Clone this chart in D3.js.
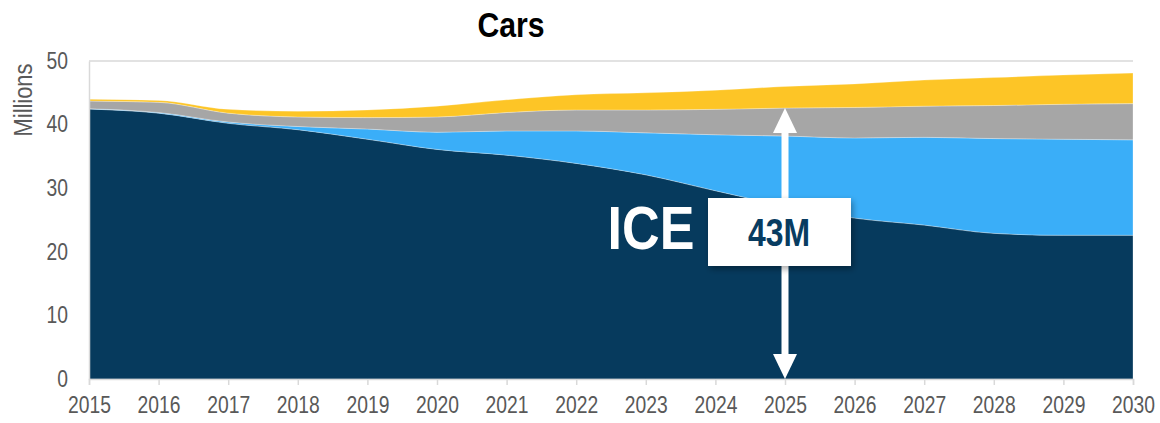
<!DOCTYPE html>
<html>
<head>
<meta charset="utf-8">
<script src="https://cdn.jsdelivr.net/npm/d3@7"></script>
<style>
  body { margin: 0; background: #fff; }
  svg text { font-family: "Liberation Sans Narrow", "Arial Narrow", "Liberation Sans", Arial, sans-serif; }
</style>
</head>
<body>
<div id="chart"></div>
<script>
// Sales of cars by powertrain, millions
var years = [2015, 2016, 2017, 2018, 2019, 2020, 2021, 2022, 2023, 2024, 2025, 2026, 2027, 2028, 2029, 2030];
var iceValues    = [42.45, 41.8, 40.2, 39.2, 37.7, 36.1, 35.2, 33.9, 32.1, 29.6, 27.2, 25.3, 24.2, 22.9, 22.6, 22.6];
var bevValues    = [0.05, 0.1, 0.2, 0.5, 1.6, 2.7, 3.8, 5.1, 6.6, 8.8, 11.0, 12.6, 13.8, 14.9, 15.1, 15.0];
var hybridValues = [1.2, 1.6, 1.4, 1.5, 1.8, 2.4, 2.9, 3.3, 3.6, 4.0, 4.4, 4.8, 4.9, 5.2, 5.5, 5.7];
var otherValues  = [0.3, 0.3, 0.6, 0.9, 1.2, 1.7, 2.0, 2.4, 2.7, 3.0, 3.4, 3.7, 4.1, 4.4, 4.6, 4.8];
var seriesKeys = ["ICE", "BEV", "Hybrid", "Other"];
var yTicks = [0, 10, 20, 30, 40, 50];
var annotationYear = 2025;
var annotationLabel = "43M";

var colors = { ICE: "#063a5d", BEV: "#3aaef8", Hybrid: "#a6a6a6", Other: "#fdc526" };

var rows = years.map(function (y, i) {
    return { year: y, ICE: iceValues[i], BEV: bevValues[i], Hybrid: hybridValues[i], Other: otherValues[i] };
});

var width = 1160, height = 423;
var margin = { top: 61, right: 27, bottom: 44, left: 89 };
var innerW = width - margin.left - margin.right;
var innerH = height - margin.top - margin.bottom;
var narrow = 0.84; // no narrow font installed, squeeze text horizontally

var svg = d3.select("#chart").append("svg")
    .attr("width", width)
    .attr("height", height);

var defs = svg.append("defs");
var shadow = defs.append("filter").attr("id", "shadow")
    .attr("x", "-20%").attr("y", "-20%").attr("width", "150%").attr("height", "160%");
shadow.append("feDropShadow")
    .attr("dx", 2).attr("dy", 3).attr("stdDeviation", 3)
    .attr("flood-color", "#000").attr("flood-opacity", 0.35);

var g = svg.append("g").attr("transform", "translate(" + margin.left + "," + margin.top + ")");

var x = d3.scaleLinear().domain([2015, 2030]).range([0, innerW]);
var y = d3.scaleLinear().domain([0, 50]).range([innerH, 0]);

// squeezed text at a point
function narrowText(parent, px, py) {
    return parent.append("text")
        .attr("transform", "translate(" + px + "," + py + ") scale(" + narrow + ",1)");
}

// Gridlines
g.append("g").selectAll("line")
    .data(yTicks.filter(function (d) { return d > 0; }))
    .enter().append("line")
    .attr("x1", 0).attr("x2", innerW)
    .attr("y1", function (d) { return y(d); })
    .attr("y2", function (d) { return y(d); })
    .attr("stroke", "#d9d9d9").attr("stroke-width", 1.5);

// Stacked areas
var stack = d3.stack().keys(seriesKeys);
var layers = stack(rows);

var area = d3.area()
    .x(function (d) { return x(d.data.year); })
    .y0(function (d) { return y(d[0]); })
    .y1(function (d) { return y(d[1]); })
    .curve(d3.curveMonotoneX);

g.selectAll(".layer")
    .data(layers)
    .enter().append("path")
    .attr("class", "layer")
    .attr("d", area)
    .attr("fill", function (d) { return colors[d.key]; })
    .attr("stroke", "rgba(255,255,255,0.35)")
    .attr("stroke-width", 0.8);

// X axis
var xAxis = g.append("g")
    .attr("transform", "translate(0," + innerH + ")")
    .call(d3.axisBottom(x).tickValues(years).tickFormat(d3.format("d")).tickSize(6).tickPadding(12));
xAxis.select(".domain").attr("stroke", "#d9d9d9").attr("stroke-width", 1.5);
xAxis.selectAll(".tick line").attr("stroke", "#d9d9d9").attr("stroke-width", 1.5);
xAxis.selectAll("text")
    .attr("fill", "#595959")
    .attr("transform", "scale(" + narrow + ",1)")
    .style("font-size", "23px");

// Y axis
var yAxis = g.append("g")
    .call(d3.axisLeft(y).tickValues(yTicks).tickSize(0).tickPadding(21));
yAxis.select(".domain").attr("stroke", "#d9d9d9").attr("stroke-width", 1.5);
yAxis.selectAll("text")
    .attr("fill", "#595959")
    .attr("x", -21 / narrow)
    .attr("transform", "scale(" + narrow + ",1)")
    .style("font-size", "23px");

// Axis title
svg.append("text")
    .attr("transform", "translate(32,100) rotate(-90) scale(" + narrow + ",1)")
    .attr("text-anchor", "middle")
    .attr("fill", "#595959")
    .style("font-size", "26px")
    .text("Millions");

// Chart title
narrowText(svg, 511, 37)
    .attr("text-anchor", "middle")
    .attr("fill", "#000")
    .style("font-size", "36px")
    .style("font-weight", "bold")
    .text("Cars");

// Annotation arrow spanning to the top of the hybrid layer
var ai = years.indexOf(annotationYear);
var ax = x(annotationYear);
var aTop = y(layers[2][ai][1]);
var aBot = y(0);
var head = 25, headW = 12;

g.append("line")
    .attr("x1", ax).attr("x2", ax)
    .attr("y1", aTop + head - 2).attr("y2", aBot - head + 2)
    .attr("stroke", "#fff").attr("stroke-width", 7);
g.append("path")
    .attr("d", "M" + ax + "," + aTop + "L" + (ax + headW) + "," + (aTop + head) + "L" + (ax - headW) + "," + (aTop + head) + "Z")
    .attr("fill", "#fff");
g.append("path")
    .attr("d", "M" + ax + "," + aBot + "L" + (ax + headW) + "," + (aBot - head) + "L" + (ax - headW) + "," + (aBot - head) + "Z")
    .attr("fill", "#fff");

// Label box
g.append("rect")
    .attr("x", ax - 77).attr("y", 137)
    .attr("width", 143).attr("height", 68)
    .attr("fill", "#fff")
    .attr("filter", "url(#shadow)");
narrowText(g, ax - 6, 185)
    .attr("text-anchor", "middle")
    .attr("fill", "#083c61")
    .style("font-size", "38px")
    .style("font-weight", "bold")
    .text(annotationLabel);

narrowText(g, ax - 134, 188)
    .attr("text-anchor", "middle")
    .attr("fill", "#fff")
    .style("font-size", "62px")
    .style("font-weight", "bold")
    .text("ICE");
</script>
</body>
</html>
